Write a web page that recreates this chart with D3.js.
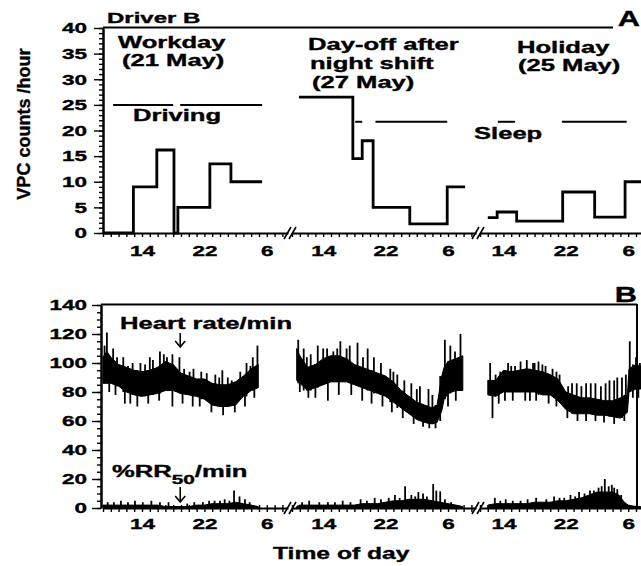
<!DOCTYPE html>
<html>
<head>
<meta charset="utf-8">
<script src="https://cdn.jsdelivr.net/npm/d3@7"></script>
<style>
  body { margin: 0; background: #fff; }
  svg text { font-family: "Liberation Sans", Arial, sans-serif; font-weight: bold; fill: #000; stroke: #000; stroke-width: 0.35; }
</style>
</head>
<body>
<svg id="chart" width="641" height="566"></svg>
<script>
// hours past midnight are written as 24+h, so 30 means 6 in the morning
const segHours = [[9, 32.7], [10, 33.6], [11, 31.8]];
const hourLabels = { 14: "14", 22: "22", 30: "6" };

// panel A: VPC counts/hour as steps [start hour, count], last point closes the step
const vpcWork = [[9, 0], [12.9, 9], [15.9, 16.2], [18.1, 0], [18.6, 5], [22.7, 13.5], [25.4, 10], [29.4, 10]];
const vpcDayOff = [[10.9, 26.5], [17.8, 14.5], [19, 18], [20.4, 5], [25.1, 1.8], [29.9, 9], [32.2, 9]];
const vpcHoliday = [[12, 3], [13.2, 4.1], [15.7, 2.3], [21.6, 8], [25.7, 3.1], [29.6, 10], [31.8, 10]];

// activity bars [from, to]
const drivingLevel = 25;
const drivingWork = [[10.3, 18], [18.9, 29.4]];
const sleepLevel = 21.7;
const sleepDayOff = [[18.1, 19], [20.7, 29.9]];
const sleepHoliday = [[13.3, 15.5], [21.5, 29.8]];

// panel B: heart rate band [hour, low, high], spikes [hour, top], dips [hour, bottom]
const hrBand1 = [[9, 86, 104], [9.5, 86, 108], [10, 86, 104], [11, 84, 99], [12, 80, 97], [13, 78, 95], [14, 77, 94],
  [15, 78, 95], [16, 79, 97], [17, 81, 101], [18, 81, 99], [19, 79, 93], [20, 78, 91], [21, 77, 89], [22, 75, 89],
  [23, 71, 86], [24, 70, 85], [25, 70, 85], [26, 71, 87], [27, 77, 91], [28, 81, 96], [28.9, 83, 99]];
const hrSpikes1 = [[9.2, 112], [9.5, 121], [10.3, 110], [10.8, 104], [11.6, 104], [12.2, 98], [12.8, 100], [13.8, 100],
  [14.4, 99], [15, 104], [15.4, 102], [16.3, 108], [16.8, 106], [17.2, 104], [17.9, 106], [18.8, 104], [19.4, 96],
  [20.1, 94], [20.6, 96], [21.6, 94], [22.3, 93], [23.4, 92], [23.9, 90], [24.3, 95], [25, 90], [25.5, 88], [26.6, 94],
  [27.4, 100], [27.9, 98], [28.2, 104], [28.8, 112]];
const hrDips1 = [[9.8, 80], [10.6, 78], [11.8, 72], [12.5, 72], [13.4, 70], [14.8, 72], [16.2, 74], [17.9, 70],
  [19.2, 72], [20.5, 70], [21.4, 70], [22.9, 66], [24.4, 64], [25.9, 66], [27.2, 70], [28.4, 76]];

const hrBand2 = [[10.6, 88, 110], [11, 86, 105], [12, 81, 97], [13, 83, 99], [14, 85, 103], [15, 87, 105], [16, 87, 105],
  [17, 87, 103], [18, 85, 99], [19, 83, 97], [20, 81, 95], [21, 79, 93], [22, 77, 91], [23, 73, 87], [24, 69, 81],
  [25, 65, 77], [26, 61, 73], [27, 59, 71], [28, 58, 69], [28.6, 59, 71], [29.2, 67, 91], [29.5, 75, 97], [30, 79, 101],
  [31, 81, 103], [31.9, 81, 105]];
const hrSpikes2 = [[10.8, 116], [11.5, 110], [11.9, 104], [12.4, 106], [13.3, 112], [14, 110], [14.5, 110], [15.3, 108],
  [15.8, 110], [16.2, 115], [17, 110], [17.4, 112], [18.4, 114], [19.1, 104], [19.7, 110], [20.5, 104], [21.4, 100],
  [22.6, 96], [23, 94], [23.5, 92], [24.4, 88], [25.3, 86], [26, 82], [26.4, 84], [27.5, 82], [28, 78], [29.6, 116],
  [30.3, 112], [30.9, 108], [31.6, 120]];
const hrDips2 = [[11, 80], [12.1, 76], [13, 76], [14.6, 74], [16, 78], [17.6, 78], [19, 74], [20.2, 72], [21.6, 70],
  [22.8, 66], [24.2, 62], [25.6, 58], [26.8, 56], [27.6, 55], [28.4, 55], [29, 60], [30, 70], [31, 74]];

const hrBand3 = [[12, 78, 88], [13, 77, 88], [14, 80, 95], [15, 80, 94], [16, 80, 95], [17, 80, 96], [18, 80, 95],
  [19, 78, 94], [20, 78, 92], [21, 74, 89], [22, 68, 80], [23, 65, 78], [24, 65, 76], [25, 65, 76], [26, 64, 75],
  [27, 64, 74], [28, 63, 74], [29, 62, 76], [29.9, 66, 78], [30.1, 80, 96], [31, 82, 99], [31.6, 82, 98]];
const hrSpikes3 = [[12.3, 100], [13, 92], [13.6, 94], [14.6, 100], [15, 98], [15.5, 98], [16.2, 101], [17, 102],
  [17.8, 100], [18, 100], [18.5, 101], [19, 99], [19.4, 98], [20.3, 96], [20.8, 94], [21.2, 92], [22.3, 84], [22.8, 86],
  [23.4, 86], [24, 84], [24.6, 86], [25.2, 86], [25.8, 86], [26.5, 84], [27.1, 86], [27.6, 88], [28.2, 88], [28.6, 90],
  [29.2, 90], [29.7, 92], [30.2, 115], [31, 104], [31.5, 100]];
const hrDips3 = [[12.6, 62], [13.4, 72], [14.2, 74], [15.2, 74], [16.8, 74], [17.4, 74], [18.2, 74], [19.8, 72],
  [20.8, 70], [22.2, 62], [23.5, 60], [24.6, 60], [25.8, 60], [26.9, 59], [28.2, 58], [29.5, 60], [30.6, 76], [31.3, 76]];

// panel B: %RR50/min [hour, value] and spikes [hour, top]
const rr1 = [[9, 2], [10, 2], [11, 2], [12, 2], [13, 2], [14, 2], [15, 2], [16, 2], [17, 1], [18, 1], [19, 1], [20, 1],
  [21, 2], [22, 2], [23, 3], [24, 3], [25, 3], [26, 4], [27, 3], [28, 2], [28.9, 1]];
const rrSpikes1 = [[9.6, 4], [10.4, 4], [11.3, 5], [12.2, 4], [13.1, 5], [14.1, 4], [15.2, 5], [16.3, 4], [17.4, 4],
  [19.8, 3], [20.7, 4], [21.8, 4], [22.6, 5], [23.3, 5], [24, 5], [24.6, 6], [25.2, 5], [25.8, 12], [26.5, 8],
  [27.2, 6], [27.8, 4]];
const rr2 = [[10.6, 1], [11, 2], [12, 2], [13, 2], [14, 2], [15, 2], [16, 2], [17, 2], [18, 2], [19, 3], [20, 3], [21, 3],
  [22, 4], [23, 5], [24, 5], [25, 6], [26, 6], [27, 6], [28, 5], [29, 4], [30, 3], [31, 2], [31.9, 1]];
const rrSpikes2 = [[11.3, 4], [12.2, 5], [13.5, 4], [14.6, 4], [15.5, 4], [16.5, 5], [17.5, 4], [18.8, 6], [19.6, 5],
  [20.6, 7], [21.4, 6], [22.4, 7], [23.2, 9], [23.8, 7], [24.5, 15], [25.3, 9], [25.8, 8], [26.2, 11], [26.8, 10],
  [27.3, 8], [28.1, 16.5], [28.5, 12], [29, 11.5], [29.6, 6], [30.4, 4]];
const rr3 = [[12, 2], [13, 3], [14, 3], [15, 3], [16, 3], [17, 3], [18, 4], [19, 4], [20, 4], [21, 5], [22, 5], [23, 6],
  [24, 7], [25, 9], [26, 11], [27, 11], [28, 11], [28.8, 9], [29.5, 4], [30, 2], [31, 1], [31.6, 1]];
const rrSpikes3 = [[12.9, 7], [13.6, 5], [14.3, 6], [15.2, 5], [16.2, 5], [17.1, 6], [18.2, 7], [19.5, 6], [20.5, 8],
  [21.2, 7], [21.8, 7], [22.6, 9], [23.2, 8], [23.7, 11], [24.4, 10], [25.1, 12], [25.6, 12], [26.2, 14], [26.6, 15],
  [27, 20], [27.5, 15], [27.9, 16], [28.2, 14], [28.6, 13], [29.1, 9]];

const arrowHour = 18.9;

// layout
const svg = d3.select("#chart");
const pxPerHour = 7.8;
const segStart = [103, 292, 480];
const xs = segHours.map((d, i) => d3.scaleLinear().domain(d).range([segStart[i], segStart[i] + (d[1] - d[0]) * pxPerHour]));
const yA = d3.scaleLinear().domain([0, 40]).range([233, 28]);
const yB = d3.scaleLinear().domain([0, 140]).range([508, 305]);
const S = 1.6; // the printed type is very wide

function stretch(sel, s) {
  sel.each(function () {
    const t = d3.select(this);
    const x = +t.attr("x") || 0;
    t.attr("x", x / s).attr("transform", `scale(${s},1)`);
  });
}

function label(txt, x, y, size, s = S, anchor = "start") {
  return svg.append("text")
    .attr("transform", `translate(${x},${y}) scale(${s},1)`)
    .attr("text-anchor", anchor)
    .attr("font-size", size)
    .text(txt);
}

function styleAxis(g) {
  g.select(".domain").attr("stroke", "#000").attr("stroke-width", 2);
  g.selectAll(".tick line").attr("stroke", "#000").attr("stroke-width", 1.4);
  g.selectAll(".tick text").attr("font-size", 15).attr("fill", "#000");
}

// ---------- panel A ----------
svg.append("line").attr("x1", 103).attr("x2", 613).attr("y1", 27.5).attr("y2", 27.5)
  .attr("stroke", "#000").attr("stroke-width", 2);

svg.append("g").attr("transform", "translate(103,0)")
  .call(d3.axisLeft(yA).tickValues(d3.range(0, 41, 1)).tickSize(4).tickSizeOuter(0).tickFormat(""))
  .call(styleAxis);
const yAxA = svg.append("g").attr("transform", "translate(103,0)")
  .call(d3.axisLeft(yA).tickValues(d3.range(0, 41, 5)).tickSize(9).tickSizeOuter(0).tickPadding(7))
  .call(styleAxis);
stretch(yAxA.selectAll(".tick text"), 1.5);

function hourTicks(d) { return d3.range(Math.ceil(d[0]), Math.floor(d[1]) + 1); }

xs.forEach((x, i) => {
  const g = svg.append("g").attr("transform", "translate(0,233)")
    .call(d3.axisBottom(x).tickValues(hourTicks(segHours[i])).tickSize(4).tickSizeOuter(0)
      .tickPadding(8).tickFormat(h => hourLabels[h] || ""))
    .call(styleAxis);
  stretch(g.selectAll(".tick text"), 1.5);
});

function breaks(y) {
  [290, 478].forEach(bx => {
    [-2.5, 2.5].forEach(off => {
      svg.append("line")
        .attr("x1", bx + off - 3.5).attr("y1", y + 6)
        .attr("x2", bx + off + 3.5).attr("y2", y - 6)
        .attr("stroke", "#000").attr("stroke-width", 1.6);
    });
  });
}
breaks(233);

const stepLine = (x, y) => d3.line().x(d => x(d[0])).y(d => y(d[1])).curve(d3.curveStepAfter);
[vpcWork, vpcDayOff, vpcHoliday].forEach((data, i) => {
  svg.append("path").datum(data)
    .attr("d", stepLine(xs[i], yA))
    .attr("fill", "none").attr("stroke", "#000").attr("stroke-width", 2.8);
});

function bars(list, x, level) {
  svg.append("g").selectAll("line").data(list).join("line")
    .attr("x1", d => x(d[0])).attr("x2", d => x(d[1]))
    .attr("y1", yA(level)).attr("y2", yA(level))
    .attr("stroke", "#000").attr("stroke-width", 2);
}
bars(drivingWork, xs[0], drivingLevel);
bars(sleepDayOff, xs[1], sleepLevel);
bars(sleepHoliday, xs[2], sleepLevel);

label("Driver B", 107, 23, 15);
label("A", 640, 26, 22, 1.4, "end");
label("Workday", 118, 48, 16);
label("(21 May)", 122, 66, 16);
label("Driving", 133, 121, 16);
label("Day-off after", 308, 50, 16);
label("night shift", 310, 69, 16);
label("(27 May)", 312, 88, 16);
label("Holiday", 517, 53, 16);
label("(25 May)", 518, 71, 16);
label("Sleep", 474, 139, 16);

svg.append("text")
  .attr("transform", "translate(30,124) rotate(-90) scale(0.95,1)")
  .attr("text-anchor", "middle")
  .attr("font-size", 19)
  .attr("font-weight", "normal")
  .attr("stroke-width", 0.6)
  .text("VPC counts /hour");

// ---------- panel B ----------
svg.append("line").attr("x1", 101).attr("x2", 637).attr("y1", 304.5).attr("y2", 304.5)
  .attr("stroke", "#000").attr("stroke-width", 2);
svg.append("line").attr("x1", 637).attr("x2", 637).attr("y1", 304).attr("y2", 508)
  .attr("stroke", "#000").attr("stroke-width", 2);

svg.append("g").attr("transform", "translate(101,0)")
  .call(d3.axisLeft(yB).tickValues(d3.range(0, 141, 5)).tickSize(4).tickSizeOuter(0).tickFormat(""))
  .call(styleAxis);
const yAxB = svg.append("g").attr("transform", "translate(101,0)")
  .call(d3.axisLeft(yB).tickValues(d3.range(0, 141, 20)).tickSize(9).tickSizeOuter(0).tickPadding(5))
  .call(styleAxis);
stretch(yAxB.selectAll(".tick text"), 1.5);

xs.forEach((x, i) => {
  const g = svg.append("g").attr("transform", "translate(0,508)")
    .call(d3.axisBottom(x).tickValues(hourTicks(segHours[i])).tickSize(4).tickSizeOuter(0)
      .tickPadding(6).tickFormat(h => hourLabels[h] || ""))
    .call(styleAxis);
  g.selectAll(".tick line").attr("y1", -3);
  stretch(g.selectAll(".tick text"), 1.5);
});
breaks(508);

function interp(band, h, k) {
  const i = d3.bisector(d => d[0]).center(band, h);
  return band[i][k];
}

const hrBands = [hrBand1, hrBand2, hrBand3];
const hrSpikes = [hrSpikes1, hrSpikes2, hrSpikes3];
const hrDips = [hrDips1, hrDips2, hrDips3];
hrBands.forEach((band, i) => {
  const x = xs[i];
  svg.append("path").datum(band)
    .attr("d", d3.area().x(d => x(d[0])).y0(d => yB(d[1])).y1(d => yB(d[2])))
    .attr("fill", "#000").attr("stroke", "#000").attr("stroke-width", 1);
  svg.append("g").selectAll("line").data(hrSpikes[i]).join("line")
    .attr("x1", d => x(d[0])).attr("x2", d => x(d[0]))
    .attr("y1", d => yB(d[1])).attr("y2", d => yB(interp(band, d[0], 1)))
    .attr("stroke", "#000").attr("stroke-width", 1.8);
  svg.append("g").selectAll("line").data(hrDips[i]).join("line")
    .attr("x1", d => x(d[0])).attr("x2", d => x(d[0]))
    .attr("y1", d => yB(d[1])).attr("y2", d => yB(interp(band, d[0], 2)))
    .attr("stroke", "#000").attr("stroke-width", 1.8);
});

const rrs = [rr1, rr2, rr3];
const rrSpikes = [rrSpikes1, rrSpikes2, rrSpikes3];
rrs.forEach((data, i) => {
  const x = xs[i];
  svg.append("path").datum(data)
    .attr("d", d3.area().x(d => x(d[0])).y0(yB(0)).y1(d => yB(d[1])))
    .attr("fill", "#000").attr("stroke", "#000").attr("stroke-width", 1);
  svg.append("g").selectAll("line").data(rrSpikes[i]).join("line")
    .attr("x1", d => x(d[0])).attr("x2", d => x(d[0]))
    .attr("y1", d => yB(d[1])).attr("y2", yB(0))
    .attr("stroke", "#000").attr("stroke-width", 1.8);
});

function arrow(x, y0, y1) {
  svg.append("line").attr("x1", x).attr("x2", x).attr("y1", y0).attr("y2", y1)
    .attr("stroke", "#000").attr("stroke-width", 1.6);
  svg.append("path").attr("d", `M${x - 5},${y1 - 6}L${x},${y1}L${x + 5},${y1 - 6}`)
    .attr("fill", "none").attr("stroke", "#000").attr("stroke-width", 1.6);
}
arrow(xs[0](arrowHour), 333, 347);
arrow(xs[0](arrowHour), 487, 502);

label("B", 637, 302, 22, 1.4, "end");
label("Heart rate/min", 120, 329, 16);
const rrLabel = svg.append("text")
  .attr("transform", `translate(112,477) scale(${S},1)`)
  .attr("font-size", 16);
rrLabel.append("tspan").text("%RR");
rrLabel.append("tspan").attr("font-size", 13).attr("dy", 7).text("50");
rrLabel.append("tspan").attr("dy", -7).text("/min");

label("Time of day", 273, 559, 17, 1.45);
</script>
</body>
</html>
